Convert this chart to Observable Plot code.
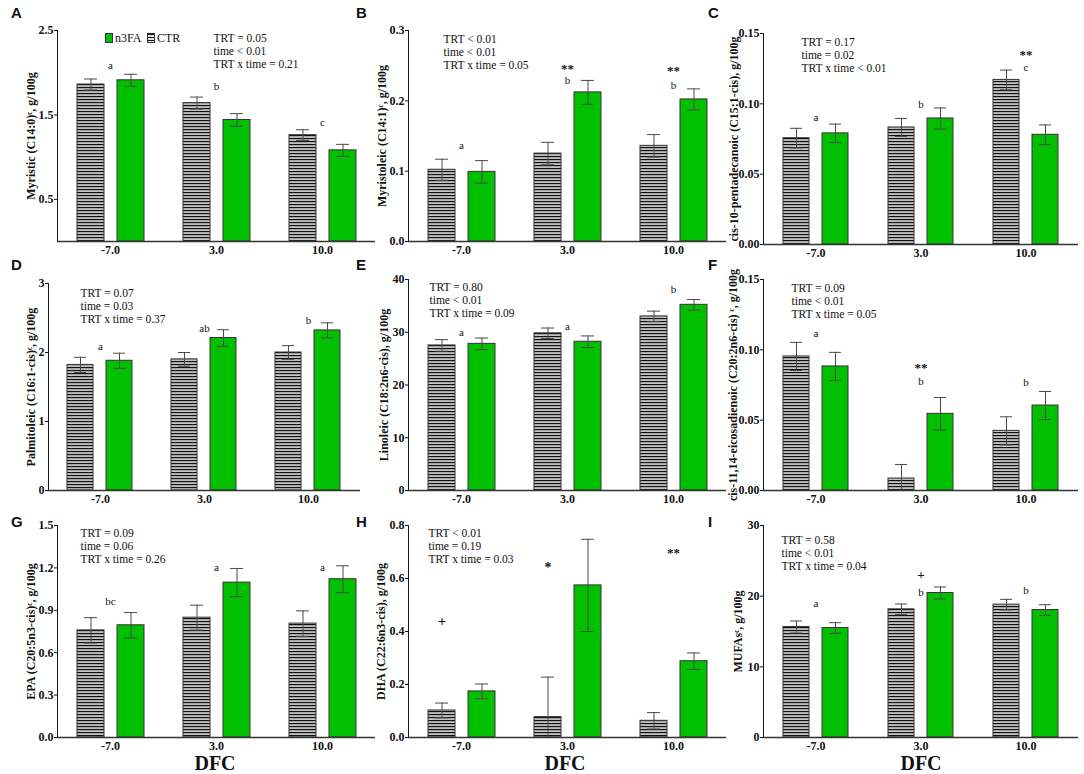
<!DOCTYPE html>
<html>
<head>
<meta charset="utf-8">
<script src="https://cdn.jsdelivr.net/npm/d3@7"></script>
<script src="https://cdn.jsdelivr.net/npm/@observablehq/plot@0.6"></script>
<style>
  body { margin: 0; background: #fff; }
  #root { position: relative; width: 1084px; height: 774px; overflow: hidden; background: #fff; font-family: "Liberation Serif", "Times New Roman", serif; }
  .letter { position: absolute; font-family: "Liberation Sans", Arial, sans-serif; font-weight: bold; font-size: 15px; line-height: 1; color: #111; }
  .dfc { position: absolute; font-family: "Liberation Serif", serif; font-weight: bold; font-size: 20px; line-height: 0.75; transform: translateX(-50%); color: #111; }
  .leg { position: absolute; font-family: "Liberation Serif", serif; font-size: 12px; line-height: 1; color: #111; }
  .legbox { position: absolute; box-sizing: border-box; border: 1px solid #333; }
</style>
</head>
<body>
<svg width="0" height="0" style="position:absolute">
  <defs>
    <pattern id="stripes" patternUnits="userSpaceOnUse" width="8" height="3">
      <rect width="8" height="3" fill="#e6e6e6"></rect>
      <rect y="0" width="8" height="1.3" fill="#111"></rect>
      <rect y="2.2" width="8" height="0.5" fill="#9a9a9a"></rect>
    </pattern>
  </defs>
</svg>
<div id="root"></div>
<script>
// ---------------- data ----------------
const days = ["-7.0", "3.0", "10.0"];
const treatments = ["CTR", "n3FA"];
const panelLetters = ["A", "B", "C", "D", "E", "F", "G", "H", "I"];
const yLabels = [
  "Myristic (C14:0)ᶜ, g/100g",
  "Myristoleic (C14:1)ᶜ, g/100g",
  "cis-10-pentadecanoic (C15:1-cis), g/100g",
  "Palmitoleic (C16:1-cis)ᶜ, g/100g",
  "Linoleic (C18:2n6-cis), g/100g",
  "cis-11,14-eicosadienoic (C20:2n6-cis) ᶜ, g/100g",
  "EPA (C20:5n3-cis)ᶜ, g/100g",
  "DHA (C22:6n3-cis), g/100g",
  "MUFAsᶜ, g/100g"
];
const yMax = [2.5, 0.3, 0.15, 3, 40, 0.15, 1.5, 0.8, 30];
const yTicks = [
  [0.5, 1.5, 2.5],
  [0, 0.1, 0.2, 0.3],
  [0, 0.05, 0.10, 0.15],
  [0, 1, 2, 3],
  [0, 10, 20, 30, 40],
  [0, 0.05, 0.10, 0.15],
  [0, 0.3, 0.6, 0.9, 1.2, 1.5],
  [0, 0.2, 0.4, 0.6, 0.8],
  [0, 10, 20, 30]
];
const yTickFormats = [".1f", ".1f", ".2f", "d", "d", ".2f", ".1f", ".1f", "d"];

// means and SE per panel, ordered by days
const ctrMean = [
  [1.86, 1.64, 1.26],
  [0.102, 0.125, 0.136],
  [0.0756, 0.0832, 0.117],
  [1.82, 1.90, 2.00],
  [27.5, 29.8, 33.0],
  [0.0953, 0.0085, 0.0424],
  [0.758, 0.848, 0.806],
  [0.102, 0.077, 0.063],
  [15.64, 18.14, 18.8]
];
const ctrErr = [
  [0.065, 0.071, 0.064],
  [0.015, 0.016, 0.016],
  [0.007, 0.0064, 0.007],
  [0.11, 0.10, 0.10],
  [1.1, 1.0, 1.0],
  [0.010, 0.010, 0.010],
  [0.09, 0.088, 0.09],
  [0.028, 0.151, 0.031],
  [0.85, 0.75, 0.75]
];
const n3Mean = [
  [1.91, 1.44, 1.08],
  [0.099, 0.212, 0.202],
  [0.079, 0.0896, 0.078],
  [1.88, 2.21, 2.32],
  [27.8, 28.2, 35.2],
  [0.0882, 0.0545, 0.0604],
  [0.794, 1.096, 1.12],
  [0.174, 0.574, 0.288],
  [15.5, 20.45, 18.04]
];
const n3Err = [
  [0.071, 0.075, 0.071],
  [0.016, 0.017, 0.015],
  [0.0066, 0.0075, 0.007],
  [0.11, 0.12, 0.11],
  [1.1, 1.1, 1.0],
  [0.010, 0.0116, 0.010],
  [0.09, 0.10, 0.095],
  [0.028, 0.174, 0.031],
  [0.75, 0.85, 0.75]
];

// P-values text
const statTRT = ["TRT = 0.05", "TRT < 0.01", "TRT = 0.17", "TRT = 0.07", "TRT = 0.80", "TRT = 0.09", "TRT = 0.09", "TRT < 0.01", "TRT = 0.58"];
const statTime = ["time < 0.01", "time < 0.01", "time = 0.02", "time = 0.03", "time < 0.01", "time < 0.01", "time = 0.06", "time = 0.19", "time < 0.01"];
const statInter = ["TRT x time = 0.21", "TRT x time = 0.05", "TRT x time < 0.01", "TRT x time = 0.37", "TRT x time = 0.09", "TRT x time = 0.05", "TRT x time = 0.26", "TRT x time = 0.03", "TRT x time = 0.04"];

// significance annotations: [day, text, value-height, treatment (optional)]
const annotations = [
  [["-7.0", "a", 2.085], ["3.0", "b", 1.836], ["10.0", "c", 1.405]],
  [["-7.0", "a", 0.137], ["3.0", "**", 0.246], ["3.0", "b", 0.229], ["10.0", "**", 0.242], ["10.0", "b", 0.222]],
  [["-7.0", "a", 0.0905], ["3.0", "b", 0.0996], ["10.0", "**", 0.135], ["10.0", "c", 0.126]],
  [["-7.0", "a", 2.085], ["3.0", "ab", 2.345], ["10.0", "b", 2.47]],
  [["-7.0", "a", 29.95], ["3.0", "a", 31.1], ["10.0", "b", 38.1]],
  [["-7.0", "a", 0.1116], ["3.0", "**", 0.087], ["3.0", "b", 0.0775], ["10.0", "b", 0.077]],
  [["-7.0", "bc", 0.966], ["3.0", "a", 1.205], ["10.0", "a", 1.205]],
  [["-7.0", "+", 0.438, "CTR"], ["3.0", "*", 0.64, "CTR"], ["10.0", "**", 0.695]],
  [["-7.0", "a", 19.0], ["3.0", "+", 23.0], ["3.0", "b", 20.5], ["10.0", "b", 20.8]]
];

// ---------------- layout (page geometry, not data) ----------------
const axisX  = [57, 408, 762, 48, 408, 762, 57, 408, 762];
const topY   = [30, 30, 33, 283, 279, 279, 525, 525, 525];
const baseY  = [241, 241, 244, 490, 490, 490, 737, 737, 737];
const facetW = [106, 106, 105.5, 104, 106, 105.5, 106, 106, 105.5];
const statXY = [[213, 33], [443, 34], [800, 37], [80, 288], [429, 282], [790, 283], [80, 528], [428, 528], [780, 535]];
const labelX = [32, 383, 734, 32, 385, 733, 32, 382, 738];
const letterXY = [[11, 5], [356, 5], [708, 5], [11, 257], [356, 257], [708, 257], [11, 514], [356, 514], [708, 514]];

const root = document.getElementById("root");
const ML = 45, MR = 4, MT = 12, MB = 28;

for (let p = 0; p < 9; p++) {
  const rows = days.flatMap((day, i) => [
    {day, trt: "CTR", mean: ctrMean[p][i], err: ctrErr[p][i]},
    {day, trt: "n3FA", mean: n3Mean[p][i], err: n3Err[p][i]}
  ]);
  const lo = d => Math.max(0, d.mean - d.err);
  const hi = d => d.mean + d.err;
  const ann = annotations[p].map(([day, text, y, trt]) => ({day, text, y, trt}));
  const annCenter = ann.filter(d => !d.trt);
  const annBar = ann.filter(d => d.trt);
  const isSym = d => /[*+]/.test(d.text);
  const stat = [{day: days[0], text: [statTRT[p], statTime[p], statInter[p]].join("\n")}];

  const innerH = baseY[p] - topY[p];
  const width = ML + 3 * facetW[p] + MR;
  const height = MT + innerH + MB;

  const chart = Plot.plot({
    width, height,
    marginLeft: ML, marginRight: MR, marginTop: MT, marginBottom: MB,
    style: {
      position: "absolute",
      left: (axisX[p] - ML) + "px",
      top: (topY[p] - MT) + "px",
      background: "transparent",
      overflow: "visible",
      fontFamily: "'Liberation Serif', 'Times New Roman', serif",
      fontSize: "12px",
      fontWeight: "bold",
      color: "#111"
    },
    fx: {domain: days, padding: 0, axis: "bottom", tickSize: 0, tickPadding: 4, label: null},
    x: {domain: treatments, paddingInner: 0.325, paddingOuter: 0.4875, axis: null},
    y: {
      domain: [0, yMax[p]],
      ticks: yTicks[p],
      tickFormat: d3.format(yTickFormats[p]),
      tickSize: 3,
      tickPadding: 1,
      line: true,
      label: yLabels[p],
      labelArrow: "none",
      labelAnchor: "center",
      labelOffset: axisX[p] - labelX[p] + 6
    },
    marks: [
      Plot.barY(rows.filter(d => d.trt === "CTR"), {fx: "day", x: "trt", y: "mean", fill: "url(#stripes)", stroke: "#3b2f3b", strokeWidth: 1}),
      Plot.barY(rows.filter(d => d.trt === "n3FA"), {fx: "day", x: "trt", y: "mean", fill: "#00c000", stroke: "#3b2f3b", strokeWidth: 1}),
      Plot.ruleX(rows, {fx: "day", x: "trt", y1: lo, y2: hi, stroke: "#4a4a4a", strokeWidth: 1}),
      Plot.tickY(rows, {fx: "day", x: "trt", y: hi, stroke: "#4a4a4a", strokeWidth: 1, insetLeft: 7, insetRight: 7}),
      Plot.tickY(rows.filter(d => d.mean - d.err > 0), {fx: "day", x: "trt", y: lo, stroke: "#4a4a4a", strokeWidth: 1, insetLeft: 7, insetRight: 7}),
      Plot.ruleY([0], {stroke: "#333", strokeWidth: 1.3}),
      Plot.text(annCenter.filter(d => !isSym(d)), {fx: "day", y: "y", text: "text", fontSize: 11, fontWeight: "normal", fill: "#111"}),
      Plot.text(annCenter.filter(isSym), {fx: "day", y: "y", text: "text", fontSize: 13, fontWeight: "bold", fill: "#111"}),
      Plot.text(annBar, {fx: "day", x: "trt", y: "y", text: "text", fontSize: 14, fontWeight: "bold", fill: "#111"}),
      Plot.text(stat, {fx: "day", text: "text", frameAnchor: "top-left", textAnchor: "start", lineAnchor: "top",
        dx: statXY[p][0] - axisX[p], dy: statXY[p][1] - topY[p], fontSize: 11.5, lineHeight: 1.1, fontWeight: "normal", fill: "#111"})
    ]
  });
  root.appendChild(chart);

  const letter = document.createElement("div");
  letter.className = "letter";
  letter.textContent = panelLetters[p];
  letter.style.left = letterXY[p][0] + "px";
  letter.style.top = letterXY[p][1] + "px";
  root.appendChild(letter);
}

// DFC axis titles under bottom row
[[215, 756], [565, 756], [921, 756]].forEach(([x, y]) => {
  const d = document.createElement("div");
  d.className = "dfc";
  d.textContent = "DFC";
  d.style.left = x + "px";
  d.style.top = y + "px";
  root.appendChild(d);
});

// Legend in panel A
function addLegend(left, top, label, bg) {
  const box = document.createElement("div");
  box.className = "legbox";
  box.style.left = left + "px";
  box.style.top = top + "px";
  box.style.width = "8px";
  box.style.height = "10px";
  box.style.background = bg;
  root.appendChild(box);
  const t = document.createElement("div");
  t.className = "leg";
  t.textContent = label;
  t.style.left = (left + 10) + "px";
  t.style.top = (top - 1) + "px";
  root.appendChild(t);
}
addLegend(105, 33, treatments[1], "#00c000");
addLegend(147, 33, treatments[0], "repeating-linear-gradient(to bottom, #111 0px, #111 1.3px, #e6e6e6 1.3px, #e6e6e6 3px)");
</script>
</body>
</html>
